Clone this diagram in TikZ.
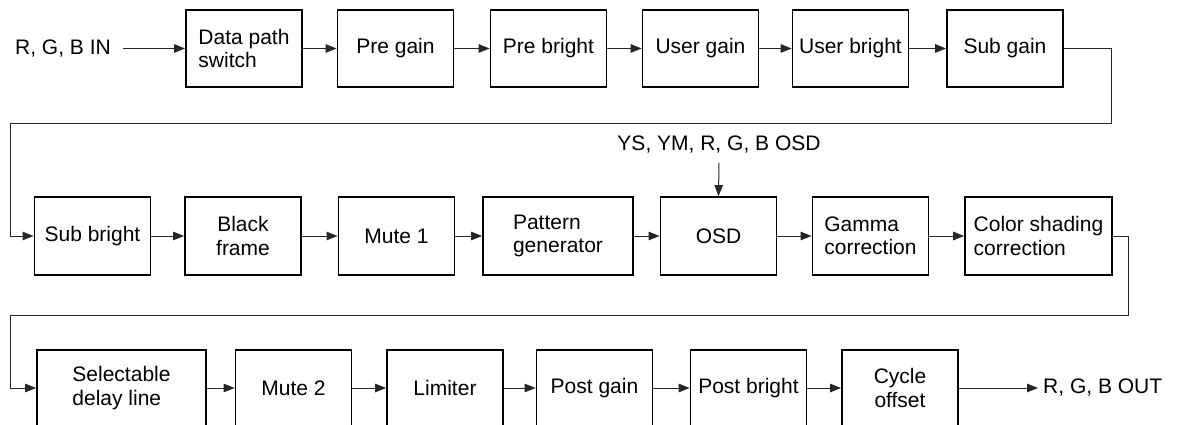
\documentclass[tikz,border=0pt]{standalone}
\usepackage{fontspec}
\setmainfont{Liberation Sans}
\usetikzlibrary{arrows.meta}
\begin{document}
\begin{tikzpicture}[x=1pt,y=-1pt,
  every node/.style={font=\fontsize{21}{23.5}\selectfont},
  blk/.style={draw=black, line width=1.7pt, inner sep=0pt, align=left, minimum width=116pt},
  rowa/.style={blk, minimum height=77pt},
  rowb/.style={blk, minimum height=78pt},
  rowc/.style={blk, minimum height=76pt},
  lbl/.style={inner sep=0pt},
  conn/.style={draw=black!85, line width=1pt},
  arr/.style={conn, -{Triangle[length=11pt,width=8.5pt]}}
]
\useasboundingbox (0,0) rectangle (1179,425);
\clip (0,0) rectangle (1179,425);
% row 1
\node[rowa] (dps) at (244,48.5) {Data path\\switch};
\node[lbl, anchor=east] (in) at (111,48.5) {R, G, B IN};
\node[rowa] (pg)  at (395.5,48.5) {Pre gain};
\node[rowa] (pb)  at (548.5,48.5) {Pre bright};
\node[rowa] (ug)  at (700.5,48.5) {User gain};
\node[rowa] (ub)  at (850.5,48.5) {User bright};
\node[rowa] (sg)  at (1005,48.5) {Sub gain};
% row 2
\node[rowb] (sb)   at (92.5,236) {Sub bright};
\node[rowb, align=center] (bf) at (243,236) {Black\\frame};
\node[rowb] (m1)   at (396.5,236) {Mute 1};
\node[rowb, minimum width=150pt] (pgen) at (558,236) {Pattern\\generator};
\node[rowb] (osd)  at (718.5,236) {OSD};
\node[rowb] (gc)   at (870.5,236) {Gamma\\correction};
\node[rowb, minimum width=147pt] (csc) at (1038.5,236) {Color shading\\correction};
\node[lbl] (osdin) at (719,145) {YS, YM, R, G, B OSD};
% row 3
\node[rowc, minimum width=169pt] (sdl) at (121.5,388) {Selectable\\delay line};
\node[rowc] (m2)  at (293.5,388) {Mute 2};
\node[rowc] (lim) at (445,388) {Limiter};
\node[rowc] (pog) at (594.5,388) {Post gain};
\node[rowc] (pob) at (748.5,388) {Post bright};
\node[rowc, align=center] (co) at (900,388) {Cycle\\offset};
\node[lbl, anchor=west] (out) at (1043,388) {R, G, B OUT};
% wrap coordinates
\coordinate (w1a) at (1111,48.5);
\coordinate (w1b) at (1111,124);
\coordinate (w1c) at (10,124);
\coordinate (w1d) at (10,236);
\coordinate (w2a) at (1128,236);
\coordinate (w2b) at (1128,315);
\coordinate (w2c) at (10,315);
\coordinate (w2d) at (10,388);
% connectors row 1
\draw[arr] ([xshift=12pt]in.east) -- (dps.west);
\draw[arr] (dps) -- (pg);
\draw[arr] (pg) -- (pb);
\draw[arr] (pb) -- (ug);
\draw[arr] (ug) -- (ub);
\draw[arr] (ub) -- (sg);
\draw[arr] (sg.east) -- (w1a) -- (w1b) -- (w1c) -- (w1d) -- (sb.west);
% row 2
\draw[arr] (sb) -- (bf);
\draw[arr] (bf) -- (m1);
\draw[arr] (m1) -- (pgen);
\draw[arr] (pgen) -- (osd);
\draw[arr] (osd) -- (gc);
\draw[arr] (gc) -- (csc);
\draw[arr] ([yshift=-9pt]osdin.south) -- (osd.north);
\draw[arr] (csc.east) -- (w2a) -- (w2b) -- (w2c) -- (w2d) -- (sdl.west);
% row 3
\draw[arr] (sdl) -- (m2);
\draw[arr] (m2) -- (lim);
\draw[arr] (lim) -- (pog);
\draw[arr] (pog) -- (pob);
\draw[arr] (pob) -- (co);
\draw[arr] (co.east) -- ([xshift=-5pt]out.west);
\end{tikzpicture}
\end{document}
